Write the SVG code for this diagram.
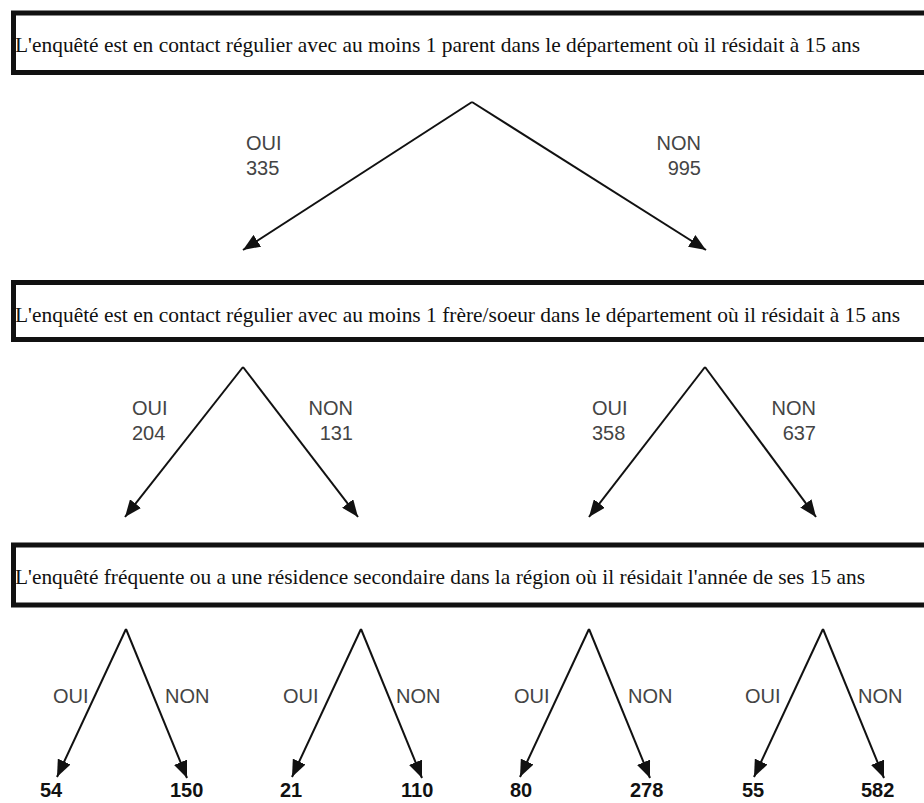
<svg xmlns="http://www.w3.org/2000/svg" width="924" height="803" viewBox="0 0 924 803">
<style>
.box{fill:#fff;stroke:#111;stroke-width:5}
.q{font-family:"Liberation Serif",serif;font-size:21px;fill:#111}
.lab{font-family:"Liberation Sans",Arial,sans-serif;font-size:20px;fill:#444}
.num{font-family:"Liberation Sans",Arial,sans-serif;font-size:20px;font-weight:bold;fill:#111}
.ln{stroke:#111;stroke-width:2;fill:none;marker-end:url(#ah)}
</style>
<defs>
<marker id="ah" viewBox="0 0 17 14" refX="17" refY="7" markerWidth="17" markerHeight="14" markerUnits="userSpaceOnUse" orient="auto">
<path d="M0,0 L17,7 L0,14 z" fill="#111"/>
</marker>
</defs>
<rect width="924" height="803" fill="#fff"/>
<g id="q1"><rect class="box" x="13.5" y="13" width="1000" height="59.5"/>
<text class="q" x="15" y="52" textLength="845" lengthAdjust="spacingAndGlyphs">L'enquêté est en contact régulier avec au moins 1 parent dans le département où il résidait à 15 ans</text></g>
<g id="q2"><rect class="box" x="13.5" y="282.5" width="1000" height="57"/>
<text class="q" x="15" y="322" textLength="885" lengthAdjust="spacingAndGlyphs">L'enquêté est en contact régulier avec au moins 1 frère/soeur dans le département où il résidait à 15 ans</text></g>
<g id="q3"><rect class="box" x="13.5" y="545" width="1000" height="60"/>
<text class="q" x="15" y="584" textLength="850" lengthAdjust="spacingAndGlyphs">L'enquêté fréquente ou a une résidence secondaire dans la région où il résidait l'année de ses 15 ans</text></g>
<g id="connectors">
<path class="ln" d="M472,102 L243,250"/>
<path class="ln" d="M472,102 L706,250"/>
<path class="ln" d="M243,367 L125,517"/>
<path class="ln" d="M243,367 L358,517"/>
<path class="ln" d="M705,367 L589,517"/>
<path class="ln" d="M705,367 L816,517"/>
<path class="ln" d="M126,629 L57,777"/>
<path class="ln" d="M126,629 L187,778"/>
<path class="ln" d="M361,629 L292,777"/>
<path class="ln" d="M361,629 L422,778"/>
<path class="ln" d="M589,629 L520,777"/>
<path class="ln" d="M589,629 L650,778"/>
<path class="ln" d="M823,629 L754,777"/>
<path class="ln" d="M823,629 L884,778"/>
</g>
<g id="labels1">
<text class="lab" x="246" y="150">OUI</text><text class="lab" x="246" y="175">335</text>
<text class="lab" x="701" y="150" text-anchor="end">NON</text><text class="lab" x="701" y="175" text-anchor="end">995</text>
</g>
<g id="labels2">
<text class="lab" x="132" y="415">OUI</text><text class="lab" x="132" y="440">204</text>
<text class="lab" x="353" y="415" text-anchor="end">NON</text><text class="lab" x="353" y="440" text-anchor="end">131</text>
<text class="lab" x="592" y="415">OUI</text><text class="lab" x="592" y="440">358</text>
<text class="lab" x="816" y="415" text-anchor="end">NON</text><text class="lab" x="816" y="440" text-anchor="end">637</text>
</g>
<g id="labels3">
<text class="lab" x="53" y="703">OUI</text><text class="lab" x="165" y="703">NON</text>
<text class="lab" x="283" y="703">OUI</text><text class="lab" x="396" y="703">NON</text>
<text class="lab" x="514" y="703">OUI</text><text class="lab" x="628" y="703">NON</text>
<text class="lab" x="745" y="703">OUI</text><text class="lab" x="858" y="703">NON</text>
</g>
<g id="leaves">
<text class="num" x="40" y="797">54</text><text class="num" x="170" y="797">150</text>
<text class="num" x="280" y="797">21</text><text class="num" x="401" y="797">110</text>
<text class="num" x="510" y="797">80</text><text class="num" x="630" y="797">278</text>
<text class="num" x="742" y="797">55</text><text class="num" x="861" y="797">582</text>
</g>
</svg>
